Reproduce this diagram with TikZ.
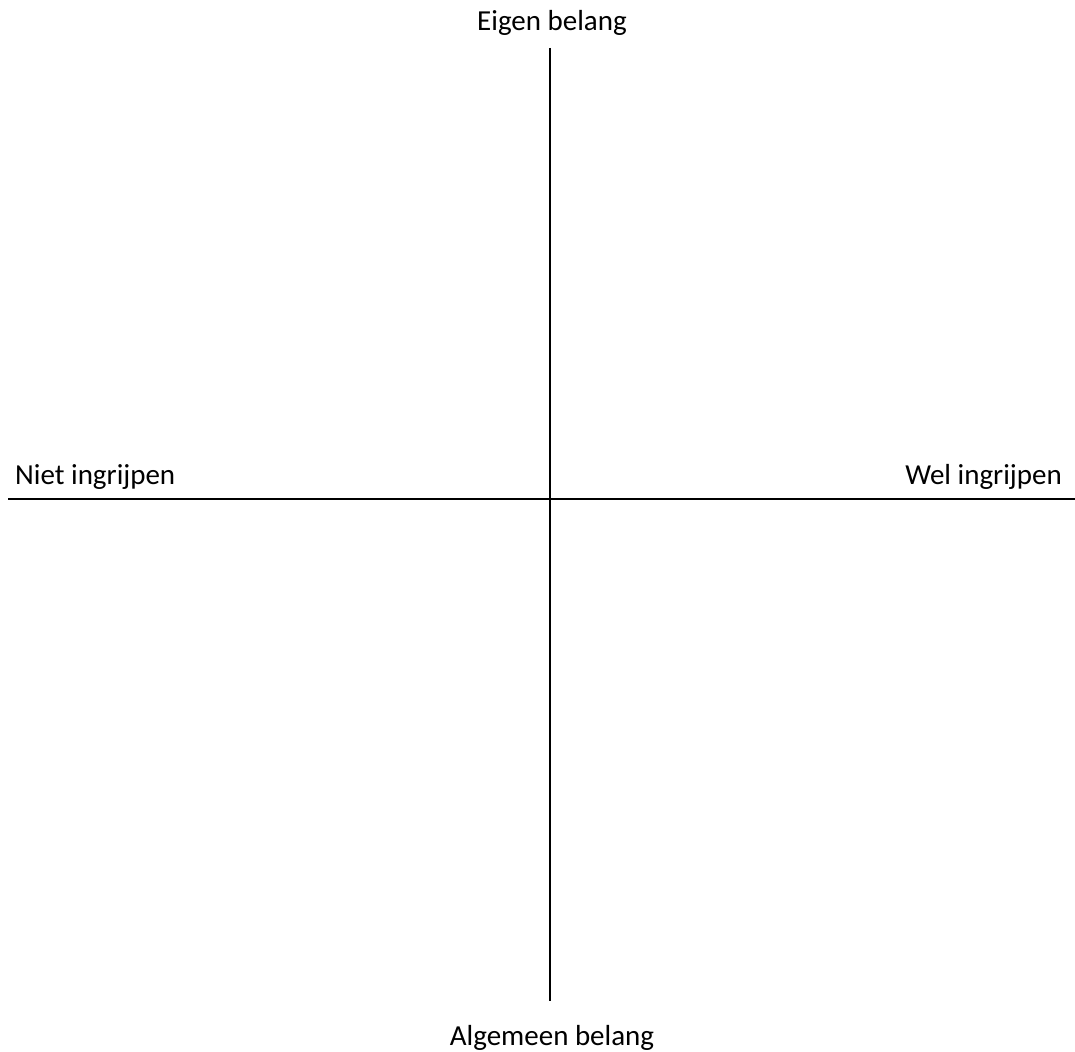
\documentclass[tikz,border=0pt]{standalone}
\usepackage{fontspec}
\setmainfont{Carlito}
\begin{document}
\begin{tikzpicture}[x=1pt,y=-1pt,
  lbl/.style={inner sep=0pt,font=\fontsize{29}{34}\selectfont},
  axis/.style={line width=1.2pt,black}]
\useasboundingbox (0,0) rectangle (1075,1051);
\coordinate (top) at (550,48);
\coordinate (bot) at (550,1001);
\coordinate (left) at (8,499);
\coordinate (right) at (1075,499);
\draw[axis] (top) -- (bot);
\draw[axis] (left) -- (right);
\node[lbl,anchor=base] (eigen) at (552,31) {Eigen belang};
\node[lbl,anchor=base west] (niet) at (15,484) {Niet ingrijpen};
\node[lbl,anchor=base east] (wel) at (1062,484) {Wel ingrijpen};
\node[lbl,anchor=base] (alg) at (552,1045) {Algemeen belang};
\end{tikzpicture}
\end{document}
